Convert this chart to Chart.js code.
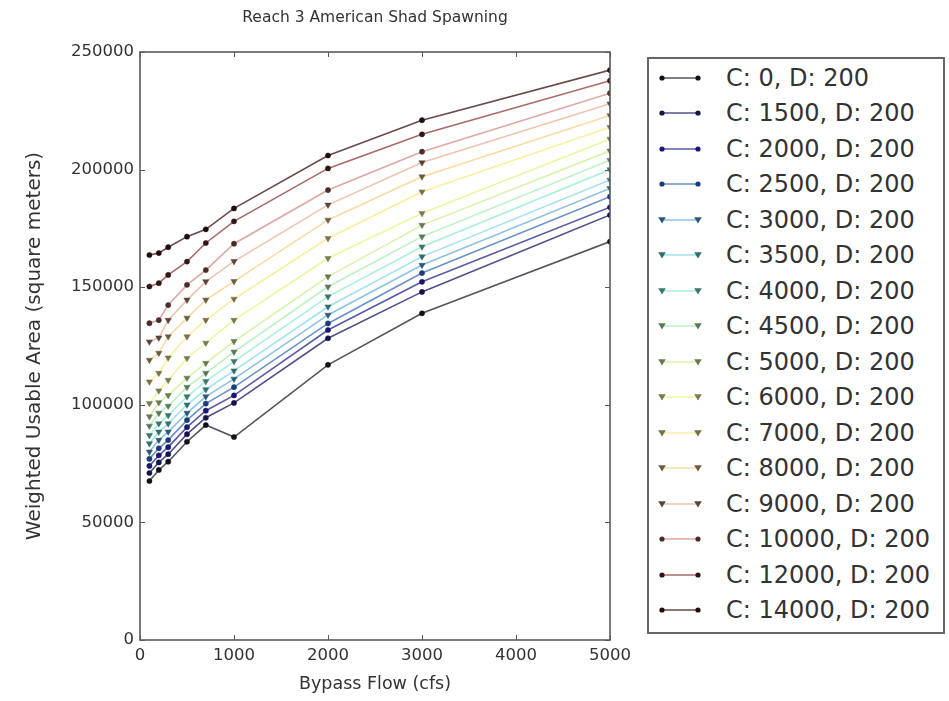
<!DOCTYPE html>
<html><head><meta charset="utf-8">
<script src="https://cdn.jsdelivr.net/npm/chart.js@4.4.1/dist/chart.umd.min.js"></script>
<style>
html,body{margin:0;padding:0;background:#fff;}
#wrap{position:relative;width:949px;height:701px;overflow:hidden;}
#c{position:absolute;left:0;top:0;}
#legend{position:absolute;left:647px;top:57px;width:298px;height:577px;border:2px solid #666;box-sizing:border-box;background:#fff;font-family:'DejaVu Sans',sans-serif;}
.row{position:absolute;left:0;height:30px;display:flex;align-items:center;}
.row svg{margin-left:9px;flex:none;}
.row span{margin-left:24px;font-size:24px;color:#333;white-space:nowrap;line-height:30px;}
</style></head><body>
<div id="wrap"><canvas id="c" width="949" height="701"></canvas><div id="legend"></div></div>
<script>
// ---- data ----
const flows = [100, 200, 300, 500, 700, 1000, 2000, 3000, 5000];
const seriesLabels = ['C: 0, D: 200','C: 1500, D: 200','C: 2000, D: 200','C: 2500, D: 200','C: 3000, D: 200','C: 3500, D: 200','C: 4000, D: 200','C: 4500, D: 200','C: 5000, D: 200','C: 6000, D: 200','C: 7000, D: 200','C: 8000, D: 200','C: 9000, D: 200','C: 10000, D: 200','C: 12000, D: 200','C: 14000, D: 200'];
const c0     = [67600, 72300, 75800, 84300, 91400, 86300, 117000, 138900, 169400];
const c1500  = [71000, 75500, 79000, 87500, 94500, 100800, 128300, 148000, 180700];
const c2000  = [74000, 78500, 82000, 90500, 97500, 104000, 131800, 152300, 184000];
const c2500  = [77000, 81500, 85000, 93500, 100500, 107500, 134600, 156000, 188500];
const c3000  = [80000, 85000, 88500, 96500, 103500, 111000, 138200, 159400, 192000];
const c3500  = [83500, 88500, 92000, 100000, 106500, 114500, 141700, 163000, 195600];
const c4000  = [87000, 92000, 95500, 103500, 110000, 118500, 146000, 167200, 200000];
const c4500  = [91000, 96500, 99500, 107500, 113500, 122500, 150200, 171500, 204000];
const c5000  = [95000, 101000, 104000, 111400, 117700, 127000, 154500, 176400, 208000];
const c6000  = [100600, 106000, 110500, 119800, 126300, 136000, 162300, 181400, 213000];
const c7000  = [109800, 113500, 120000, 129000, 136000, 145000, 170800, 190600, 218000];
const c8000  = [119000, 122000, 129000, 136900, 144600, 152500, 178600, 197000, 223000];
const c9000  = [126800, 128500, 136000, 144600, 152400, 161000, 185000, 203000, 228000];
const c10000 = [134700, 136000, 142400, 151000, 157300, 168500, 191300, 207600, 232500];
const c12000 = [150300, 151700, 155200, 160900, 168800, 178000, 200500, 215000, 237800];
const c14000 = [163700, 164500, 167000, 171500, 174600, 183500, 206000, 221000, 242300];
const seriesValues = [c0,c1500,c2000,c2500,c3000,c3500,c4000,c4500,c5000,c6000,c7000,c8000,c9000,c10000,c12000,c14000];
const xTicks = [0, 1000, 2000, 3000, 4000, 5000];
const yTicks = [0, 50000, 100000, 150000, 200000, 250000];

// ---- styles ----
const lineColors = ['#55555f','#50508a','#5a5aa8','#6a92c8','#8cc2e2','#a2e2ee','#aaf0dc','#baf2c2','#d6f4aa','#eaf8a4','#f8f0a0','#f6dca2','#eec4b0','#dca8a4','#a86a68','#6a4a48'];
const markerColors = ['#101018','#14144a','#181870','#1c3c78','#2a5a78','#2e7070','#3a7868','#587a5a','#6a7a50','#7a7a50','#7a7048','#6e5c40','#5a4438','#4a2c28','#2e1614','#1e0e0e'];
const triangle = [false,false,false,false,true,true,true,true,true,true,true,true,true,false,false,false];
const FONT = "'DejaVu Sans', sans-serif";
const TXT = '#333';

const datasets = seriesValues.map((vals, i) => ({
  label: seriesLabels[i],
  data: flows.map((f, j) => ({x: f, y: vals[j]})),
  borderColor: lineColors[i],
  borderWidth: 1.6,
  backgroundColor: markerColors[i],
  pointBackgroundColor: markerColors[i],
  pointBorderColor: markerColors[i],
  pointBorderWidth: 0.5,
  pointStyle: triangle[i] ? 'triangle' : 'circle',
  pointRotation: triangle[i] ? 180 : 0,
  pointRadius: triangle[i] ? 3.6 : 2.6,
  tension: 0,
  fill: false
}));

const framePlugin = {
  id: 'frame',
  afterDatasetsDraw(chart) {
    const {ctx, chartArea: a, scales: {x, y}} = chart;
    ctx.save();
    ctx.strokeStyle = '#5a5a5a';
    ctx.lineWidth = 1.6;
    ctx.strokeRect(a.left, a.top, a.right - a.left, a.bottom - a.top);
    ctx.lineWidth = 1;
    ctx.beginPath();
    xTicks.forEach(v => {
      const px = Math.round(x.getPixelForValue(v)) + 0.5;
      ctx.moveTo(px, a.bottom); ctx.lineTo(px, a.bottom - 5);
      ctx.moveTo(px, a.top); ctx.lineTo(px, a.top + 5);
    });
    yTicks.forEach(v => {
      const py = Math.round(y.getPixelForValue(v)) + 0.5;
      ctx.moveTo(a.left, py); ctx.lineTo(a.left + 5, py);
      ctx.moveTo(a.right, py); ctx.lineTo(a.right - 5, py);
    });
    ctx.stroke();
    ctx.restore();
  }
};

new Chart(document.getElementById('c'), {
  type: 'line',
  data: {datasets},
  plugins: [framePlugin],
  options: {
    responsive: false,
    animation: false,
    devicePixelRatio: 1,
    layout: {padding: {left: 0, right: 339, top: 0, bottom: 0}},
    plugins: {
      legend: {display: false},
      tooltip: {enabled: false},
      title: {
        display: true,
        text: 'Reach 3 American Shad Spawning',
        fullSize: false,
        color: TXT,
        font: {family: FONT, size: 15.5, weight: 'normal'},
        padding: {top: 9, bottom: 24.4}
      }
    },
    scales: {
      x: {
        type: 'linear', min: 0, max: 5000,
        afterFit: s => { s.height = 61; },
        afterBuildTicks: s => { s.ticks = xTicks.map(v => ({value: v})); },
        grid: {display: false, drawTicks: false},
        border: {display: false},
        ticks: {color: TXT, font: {family: FONT, size: 16.5}, padding: 6, maxRotation: 0, callback: v => String(v)},
        title: {display: true, text: 'Bypass Flow (cfs)', color: TXT, font: {family: FONT, size: 17.5}, padding: {top: 0, bottom: 6}}
      },
      y: {
        type: 'linear', min: 0, max: 250000,
        afterFit: s => { s.width = 140; },
        afterBuildTicks: s => { s.ticks = yTicks.map(v => ({value: v})); },
        grid: {display: false, drawTicks: false},
        border: {display: false},
        ticks: {color: TXT, font: {family: FONT, size: 16.5}, padding: 6, callback: v => String(v)},
        title: {display: true, text: 'Weighted Usable Area (square meters)', color: TXT, font: {family: FONT, size: 20}, padding: {top: 23, bottom: 0}}
      }
    }
  }
});

// ---- legend (HTML) ----
const leg = document.getElementById('legend');
seriesLabels.forEach((lab, i) => {
  const row = document.createElement('div');
  row.className = 'row';
  row.style.top = (19 + i * 35.47 - 15) + 'px';
  const mk = (cx) => triangle[i]
    ? `<polygon points="${cx-3.8},3.2 ${cx+3.8},3.2 ${cx},9.6" fill="${markerColors[i]}"/>`
    : `<circle cx="${cx}" cy="6" r="2.6" fill="${markerColors[i]}"/>`;
  row.innerHTML = `<svg width="44" height="12" viewBox="0 0 44 12"><line x1="4" y1="6" x2="40" y2="6" stroke="${lineColors[i]}" stroke-width="1.6"/>${mk(4)}${mk(40)}</svg><span>${lab}</span>`;
  leg.appendChild(row);
});
</script></body></html>
